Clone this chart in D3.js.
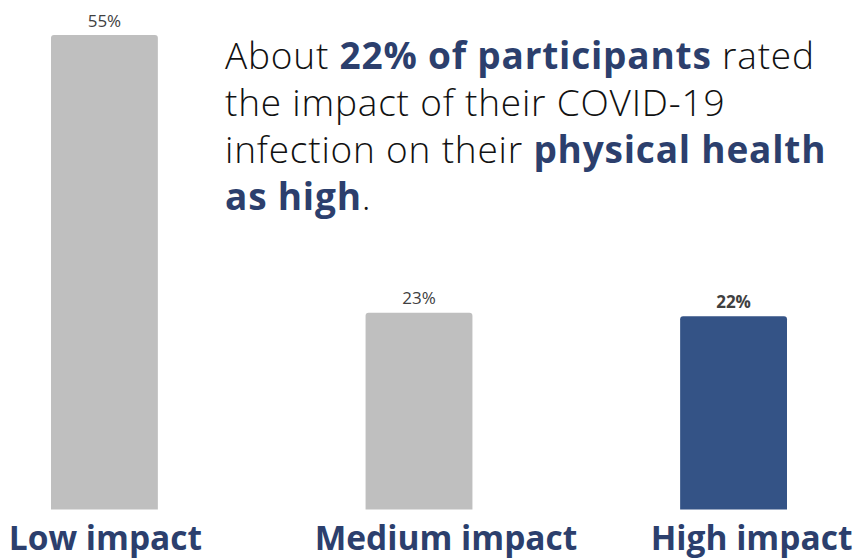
<!DOCTYPE html>
<html><head><meta charset="utf-8">
<script src="https://cdn.jsdelivr.net/npm/d3@7"></script>
<style>body{margin:0;background:#fff}svg{display:block}</style>
</head><body>
<script>
const categories = ["Low impact", "Medium impact", "High impact"];
const values = [55, 22.8, 22.4];
const valueLabels = ["55%", "23%", "22%"];
const highlight = [false, false, true];
const titleLines = [
  [["About ", false], ["22% of participants", true], [" rated", false]],
  [["the impact of their COVID-19", false]],
  [["infection on their ", false], ["physical health", true]],
  [["as high", true], [".", false]]
];

const W = 855, H = 560;
const svg = d3.select("body").append("svg").attr("width", W).attr("height", H);

const x = d3.scaleBand().domain(categories).range([51, 787]).paddingInner(0.6603).paddingOuter(0);
const y = d3.scaleLinear().domain([0, 55]).range([509.5, 35]);

const gray = "#bfbfbf", blue = "#345386", dark = "#2c3f6d";
const labelShift = [1, 27, 18];

function topRounded(x0, y0, w, h, r) {
  return `M${x0},${y0+h}V${y0+r}Q${x0},${y0} ${x0+r},${y0}H${x0+w-r}Q${x0+w},${y0} ${x0+w},${y0+r}V${y0+h}Z`;
}

svg.selectAll("path.bar").data(categories).join("path")
  .attr("class", "bar")
  .attr("d", (d, i) => topRounded(x(d), y(values[i]), x.bandwidth(), y(0) - y(values[i]), 3))
  .attr("fill", (d, i) => highlight[i] ? blue : gray);

svg.selectAll("text.val").data(categories).join("text")
  .attr("class", "val")
  .attr("x", d => x(d) + x.bandwidth() / 2)
  .attr("y", (d, i) => y(values[i]) - 8.5)
  .attr("text-anchor", "middle")
  .attr("font-family", "Open Sans, sans-serif")
  .attr("font-size", 17)
  .attr("font-weight", (d, i) => highlight[i] ? 700 : 400)
  .attr("fill", "#404040")
  .text((d, i) => valueLabels[i]);

svg.selectAll("text.cat").data(categories).join("text")
  .attr("class", "cat")
  .attr("x", (d, i) => x(d) + x.bandwidth() / 2 + labelShift[i])
  .attr("y", 550)
  .attr("text-anchor", "middle")
  .attr("font-family", "Open Sans, sans-serif")
  .attr("font-size", 33.5)
  .attr("font-weight", 700)
  .attr("fill", dark)
  .text(d => d);

const title = svg.append("text")
  .attr("font-family", "Open Sans, sans-serif")
  .attr("font-size", 37)
  .attr("letter-spacing", 0.8);
titleLines.forEach((line, li) => {
  line.forEach(([s, b], si) => {
    const ts = title.append("tspan").attr("font-weight", b ? 700 : 300)
      .attr("fill", b ? dark : "#111").attr("xml:space", "preserve")
      .text(s);
    if (si === 0) ts.attr("x", 225).attr("y", 69 + li * 47);
  });
});
</script>
</body></html>
